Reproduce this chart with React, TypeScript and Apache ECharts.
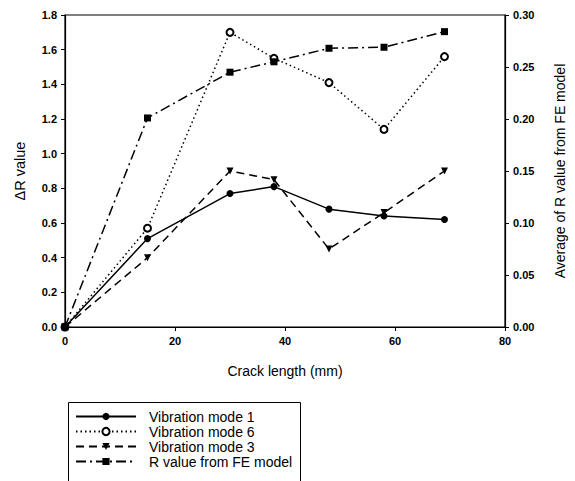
import React, { useEffect, useRef } from "react";
import * as echarts from "echarts";

const crackLength = [0, 15, 30, 38, 48, 58, 69];
const mode1 = [0, 0.51, 0.77, 0.81, 0.68, 0.64, 0.62];
const mode6 = [0, 0.57, 1.70, 1.55, 1.41, 1.14, 1.56];
const mode3 = [0, 0.40, 0.90, 0.85, 0.45, 0.66, 0.90];
const feModel = [0, 0.201, 0.245, 0.255, 0.268, 0.269, 0.284];

const pairs = (ys: number[]) => crackLength.map((x, i) => [x, ys[i]]);

export default function App() {
  const ref = useRef<HTMLDivElement>(null);
  useEffect(() => {
    document.body.style.margin = "0";
    const chart = echarts.init(ref.current!, undefined, { renderer: "svg" });
    const font = "Liberation Sans, Arial, sans-serif";
    const axisLabel = { color: "#000", fontSize: 11, fontWeight: "bold" as const, fontFamily: font };
    const axisLine = { show: true, lineStyle: { color: "#000", width: 1.2 } };
    const axisTick = { show: true, length: 4, lineStyle: { color: "#000" } };
    const nameStyle = { color: "#000", fontSize: 14, fontFamily: font };
    chart.setOption({
      animation: false,
      backgroundColor: "#fff",
      textStyle: { fontFamily: font },
      grid: { left: 65, right: 62, top: 15, bottom: 154, show: true, borderColor: "#000", borderWidth: 1.2 },
      graphic: [
        {
          type: "rect",
          left: 66,
          top: 400,
          shape: { width: 232, height: 100 },
          style: { fill: "none", stroke: "#000", lineWidth: 1 },
          silent: true,
        },
      ],
      xAxis: {
        type: "value",
        min: 0,
        max: 80,
        interval: 20,
        name: "Crack length (mm)",
        nameLocation: "middle",
        nameGap: 37,
        nameTextStyle: nameStyle,
        axisLine,
        axisTick,
        axisLabel: { ...axisLabel, margin: 8 },
        splitLine: { show: false },
      },
      yAxis: [
        {
          type: "value",
          min: 0,
          max: 1.8,
          interval: 0.2,
          name: "ΔR value",
          nameLocation: "middle",
          nameGap: 38,
          nameRotate: 90,
          nameTextStyle: { ...nameStyle, fontSize: 14.5 },
          axisLine,
          axisTick,
          axisLabel: { ...axisLabel, formatter: (v: number) => v.toFixed(1) },
          splitLine: { show: false },
        },
        {
          type: "value",
          min: 0,
          max: 0.3,
          interval: 0.05,
          position: "right",
          name: "Average of R value from FE model",
          nameLocation: "middle",
          nameGap: 48,
          nameRotate: 90,
          nameTextStyle: nameStyle,
          axisLine,
          axisTick,
          axisLabel: { ...axisLabel, formatter: (v: number) => v.toFixed(2) },
          splitLine: { show: false },
        },
      ],
      legend: {
        orient: "vertical",
        left: 66,
        top: 400,
        itemWidth: 60,
        itemHeight: 9,
        itemGap: 0,
        padding: [9, 10, 0, 9],
        textStyle: { color: "#000", fontSize: 14, lineHeight: 15, fontFamily: font, padding: [0, 0, 0, 8] },
        data: ["Vibration mode 1", "Vibration mode 6", "Vibration mode 3", "R value from FE model"],
      },
      series: [
        {
          name: "Vibration mode 1",
          type: "line",
          data: pairs(mode1),
          symbol: "circle",
          symbolSize: 7,
          itemStyle: { color: "#000" },
          lineStyle: { color: "#000", width: 1.5, type: "solid" },
        },
        {
          name: "Vibration mode 6",
          type: "line",
          data: pairs(mode6),
          symbol: "emptyCircle",
          symbolSize: 7,
          itemStyle: { color: "#000", borderColor: "#000" },
          lineStyle: { color: "#000", width: 1.5, type: [1.5, 3] },
        },
        {
          name: "Vibration mode 3",
          type: "line",
          data: pairs(mode3),
          symbol: "triangle",
          symbolRotate: 180,
          symbolSize: 7,
          itemStyle: { color: "#000" },
          lineStyle: { color: "#000", width: 1.5, type: [8, 5] },
        },
        {
          name: "R value from FE model",
          type: "line",
          yAxisIndex: 1,
          data: pairs(feModel),
          symbol: "rect",
          symbolSize: 7,
          itemStyle: { color: "#000" },
          lineStyle: { color: "#000", width: 1.5, type: [10, 4, 2, 4] },
        },
      ],
    });
    return () => chart.dispose();
  }, []);
  return <div ref={ref} style={{ width: 575, height: 481 }} />;
}
